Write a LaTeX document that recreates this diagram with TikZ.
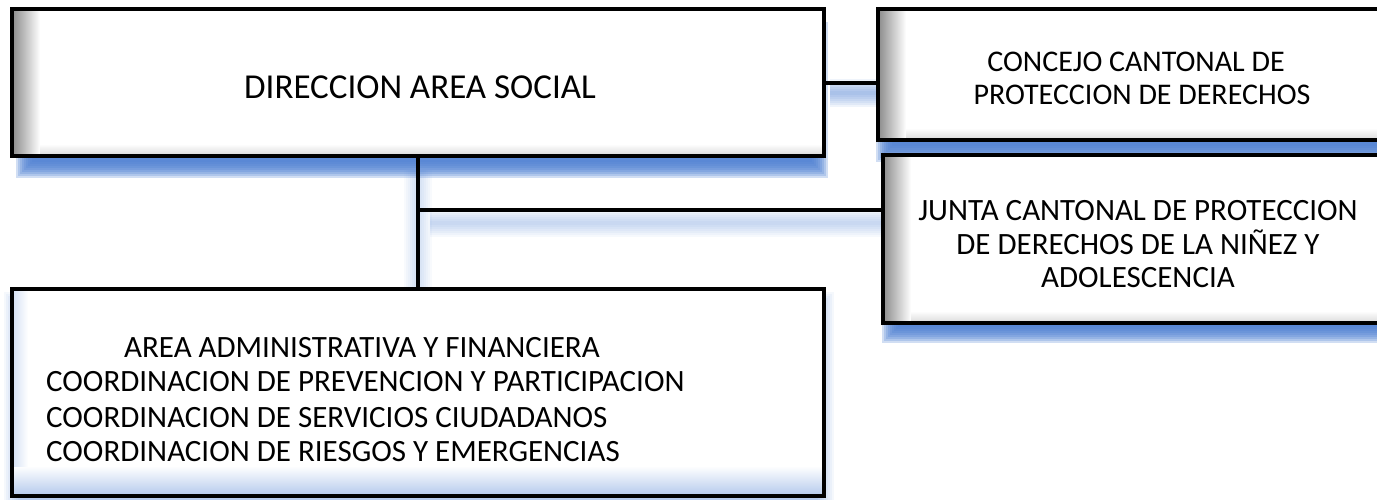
\documentclass[tikz,border=0pt]{standalone}
\usepackage{fontspec}
\setmainfont{Carlito}
\definecolor{shadowblue}{RGB}{78,128,210}
\newcommand\glowrect[5]{%
  \foreach \k in {-8,-6,...,8}{%
    \fill[shadowblue, opacity=#5] ({#1-(\k)},{#2-(\k)}) rectangle ({#3+(\k)},{#4+(\k)});
  }}
\begin{document}
\begin{tikzpicture}[x=1pt,y=-1pt,
  orgbox/.style={draw=black, line width=4pt, fill=white, inner sep=0pt, outer sep=0pt},
  link/.style={draw=black, line width=4pt},
  bigtxt/.style={inner sep=0pt, anchor=base, font=\fontsize{35}{40}\selectfont},
  txt/.style={inner sep=0pt, anchor=base, font=\fontsize{31}{34}\selectfont},
  txtc/.style={inner sep=0pt, anchor=base, font=\fontsize{30}{34}\selectfont},
  txtl/.style={inner sep=0pt, anchor=base west, font=\fontsize{31}{34}\selectfont},
  leftshade/.style={left color=gray!85, right color=white},
  bottomshade/.style={top color=white, bottom color=gray!25}]
\useasboundingbox (0,0) rectangle (1377,499);
\clip (0,0) rectangle (1377,499);
% shadows (beneath)
\glowrect{24}{30}{820}{170}{0.26}
\glowrect{884}{24}{1412}{154}{0.26}
\glowrect{890}{175}{1390}{335}{0.26}
\glowrect{12}{300}{826}{510}{0.06}
\foreach \w in {4,8,...,28}{%
  \draw[shadowblue, opacity=0.09, line width=\w pt] (830,93) -- (878,93);
  \draw[shadowblue, opacity=0.05, line width=\w pt] (430,223) -- (883,223);
  \draw[shadowblue, opacity=0.04, line width=\w pt] (418,170) -- (418,289);
}
% boxes
\node[orgbox, minimum width=812pt, minimum height=147pt] (dir) at (418,82.5) {};
\node[orgbox, minimum width=534pt, minimum height=131pt] (con) at (1145,74.5) {};
\node[orgbox, minimum width=507pt, minimum height=168pt] (jun) at (1136.5,239) {};
\node[orgbox, minimum width=812pt, minimum height=207pt] (adm) at (418,392.5) {};
% inner shading
\foreach \b in {dir,con,jun}{%
  \shade[leftshade] ([xshift=2pt,yshift=-2pt]\b.north west) rectangle ([xshift=28pt,yshift=2pt]\b.south west);
  \shade[bottomshade] ([xshift=28pt,yshift=12pt]\b.south west) rectangle ([xshift=-2pt,yshift=2pt]\b.south east);
}
\shade[top color=white, bottom color=shadowblue!40] ([xshift=2pt,yshift=30pt]adm.south west) rectangle ([xshift=-2pt,yshift=2pt]adm.south east);
\shade[left color=shadowblue!22, right color=white] ([xshift=2pt,yshift=-2pt]adm.north west) rectangle ([xshift=16pt,yshift=30pt]adm.south west);
% redraw borders over shading
\foreach \b in {dir,con,jun,adm}{%
  \draw[line width=4pt] (\b.north west) rectangle (\b.south east);
}
% texts
\node[bigtxt] (t1) at (420,98) {DIRECCION AREA SOCIAL};
\node[txtc] (c1) at (1136,71) {CONCEJO CANTONAL DE};
\node[txtc] (c2) at (1142,104) {PROTECCION DE DERECHOS};
\node[txt] (j1) at (1138,220) {JUNTA CANTONAL DE PROTECCION};
\node[txt] (j2) at (1138,254) {DE DERECHOS DE LA NIÑEZ Y};
\node[txt] (j3) at (1138,287) {ADOLESCENCIA};
\node[txtl] (a1) at (124,357) {AREA ADMINISTRATIVA Y FINANCIERA};
\node[txtl] (a2) at (46,391) {COORDINACION DE PREVENCION Y PARTICIPACION};
\node[txtl] (a3) at (46,427) {COORDINACION DE SERVICIOS CIUDADANOS};
\node[txtl] (a4) at (46,461) {COORDINACION DE RIESGOS Y EMERGENCIAS};
% connectors
\coordinate (jn) at (418,210);
\draw[link] (dir.south) -- (adm.north);
\draw[link] (jn) -- (jn -| jun.west);
\draw[link] (dir.east) -- (dir.east -| con.west);
\end{tikzpicture}
\end{document}
